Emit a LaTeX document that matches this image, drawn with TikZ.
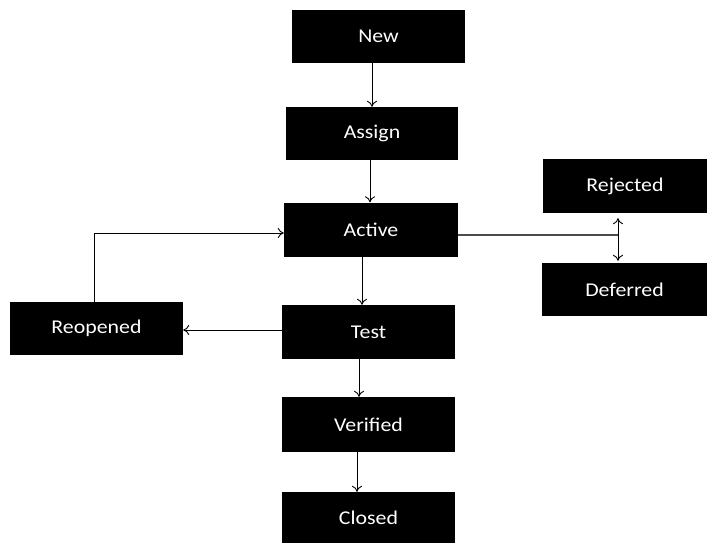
\documentclass[tikz,border=0pt]{standalone}
\usepackage{fontspec}
\setmainfont{Carlito}[FakeStretch=1.12]
\usetikzlibrary{arrows.meta}
\tikzset{
  state/.style={fill=black, text=white, inner sep=0pt, minimum width=173pt, minimum height=53pt, font=\fontsize{19.5}{22}\selectfont},
  flow/.style={line width=0.9pt, -{To[length=6pt,width=10pt]}},
}
\begin{document}
\begin{tikzpicture}[x=1pt, y=-1pt]
  \useasboundingbox[fill=white] (0,0) rectangle (707,542);
  % states
  \node[state] (New) at (378.5,36.5) {New};
  \node[state, minimum width=172pt] (Assign) at (372,133.5) {Assign};
  \node[state, minimum width=174pt, minimum height=54pt] (Active) at (371,229.5) {Active};
  \node[state, minimum height=54pt] (Test) at (368.5,332) {Test};
  \node[state, minimum height=55pt] (Verified) at (368.5,424.5) {Verified};
  \node[state, minimum height=52pt] (Closed) at (368.5,518) {Closed};
  \node[state] (Reopened) at (96.5,328.5) {Reopened};
  \node[state, minimum width=165pt, minimum height=54pt] (Rejected) at (625,186) {Rejected};
  \node[state, minimum width=165pt] (Deferred) at (624.5,289.5) {Deferred};
  \coordinate (split) at (618,235);
  % main line
  \draw[flow] (New.south -| Assign.north) -- (Assign.north);
  \draw[flow] ([xshift=-2pt]Assign.south) -- ([xshift=-2pt]Assign.south |- Active.north);
  \draw[flow] ([xshift=-9pt]Active.south) -- ([xshift=-9pt]Active.south |- Test.north);
  \draw[flow] ([xshift=-9.5pt]Test.south) -- ([xshift=-9.5pt]Test.south |- Verified.north);
  \draw[flow] ([xshift=-11.5pt]Verified.south) -- ([xshift=-11.5pt]Verified.south |- Closed.north);
  % side paths
  \draw[flow] ([yshift=2pt]Test.west) -- ([yshift=2pt]Test.west -| Reopened.east);
  \draw[flow] ([xshift=-2.5pt]Reopened.north) |- ([yshift=-3.5pt]Active.west);
  \draw[line width=1.1pt, black!70] ([yshift=-5.5pt]Active.east) -- (split);
  \draw[line width=0.9pt, {To[length=6pt,width=10pt]}-{To[length=6pt,width=10pt]}]
    ([yshift=-5pt]Rejected.south -| split) -- ([yshift=2pt]Deferred.north -| split);
\end{tikzpicture}
\end{document}
